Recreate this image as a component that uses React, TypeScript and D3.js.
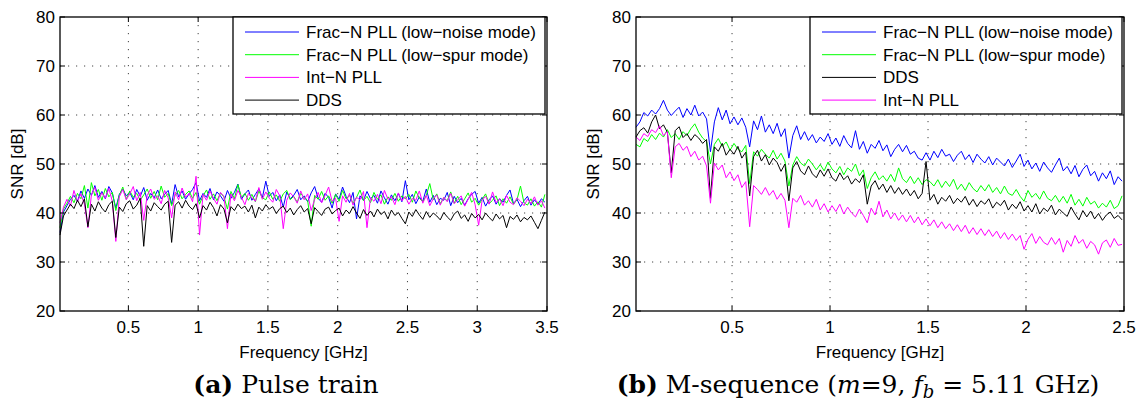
import React from 'react';
import * as d3 from 'd3';

// sampling grid of the two measurements (GHz)
const leftStart = 0.01;
const leftStep = 0.025;
const rightStart = 0.01;
const rightStep = 0.02;

const yTicks = [20, 30, 40, 50, 60, 70, 80];
const leftXTicks = [0.5, 1, 1.5, 2, 2.5, 3, 3.5];
const rightXTicks = [0.5, 1, 1.5, 2, 2.5];

// (a) pulse train
const pulseLowNoise = [
  36.0, 40.2, 41.5, 42.8, 43.6, 42.4, 44.5, 43.0, 44.9, 43.6,
  45.6, 43.2, 44.4, 42.9, 45.4, 44.1, 41.0, 43.8, 44.9, 43.5,
  44.2, 42.7, 44.8, 43.4, 45.2, 42.6, 44.0, 43.1, 44.7, 42.9,
  43.8, 44.6, 41.8, 45.8, 43.3, 44.5, 42.8, 43.9, 44.8, 46.2,
  42.5, 44.0, 43.2, 45.0, 42.7, 44.3, 43.5, 42.4, 44.6, 43.0,
  44.2, 45.9, 42.8, 43.9, 44.7, 42.6, 43.8, 44.9, 43.1, 46.5,
  43.4, 44.2, 42.5, 43.7, 41.2, 44.3, 42.9, 43.6, 44.8, 42.7,
  43.5, 42.3, 44.1, 45.4, 43.0, 42.2, 44.0, 43.2, 41.0, 43.9,
  42.8, 45.3, 43.4, 42.1, 44.2, 38.8, 43.5, 42.6, 44.4, 42.9,
  43.6, 42.0, 44.5, 43.1, 41.8, 43.7, 42.5, 44.0, 42.3, 46.6,
  42.7, 43.8, 41.9, 43.3, 42.4, 44.9, 42.2, 43.6, 41.7, 43.0,
  42.6, 44.2, 41.5, 43.4, 42.1, 43.0, 41.6, 42.9, 43.8, 44.4,
  42.0, 43.2, 41.4, 42.7, 43.5, 41.8, 42.9, 42.2, 43.6, 44.7,
  41.9, 42.8, 41.3, 42.5, 43.4, 41.6, 42.7, 41.8, 42.9, 42.2,
];
const pulseLowSpur = [
  37.0, 40.8, 42.0, 43.4, 42.1, 44.0, 42.9, 45.6, 41.0, 46.2,
  43.5, 44.8, 42.6, 45.0, 43.3, 44.2, 40.5, 43.6, 45.3, 42.8,
  44.5, 43.2, 44.0, 42.6, 43.7, 44.9, 43.0, 44.4, 42.7, 45.5,
  43.2, 44.0, 41.5, 43.6, 44.6, 42.9, 43.8, 44.5, 43.0, 44.2,
  41.8, 43.5, 44.7, 42.8, 43.9, 42.5, 44.1, 43.3, 40.8, 44.4,
  42.9, 45.8, 43.2, 44.0, 42.6, 43.8, 42.3, 44.5, 43.1, 42.7,
  44.3, 42.8, 43.7, 42.4, 43.9, 44.6, 42.7, 43.4, 42.2, 44.0,
  43.1, 42.5, 37.3, 43.6, 42.8, 44.4, 42.6, 43.5, 42.0, 43.8,
  42.4, 44.6, 42.9, 43.6, 41.9, 43.2, 44.7, 42.5, 43.4, 42.1,
  44.2, 42.8, 43.7, 41.8, 43.3, 42.6, 44.0, 42.4, 43.5, 42.9,
  43.8, 42.2, 44.5, 43.0, 42.3, 43.6, 46.0, 42.7, 43.9, 41.9,
  43.1, 42.5, 44.3, 42.0, 43.4, 41.7, 42.9, 44.1, 42.2, 43.0,
  41.6, 42.8, 43.9, 41.9, 42.6, 43.5, 41.5, 42.9, 42.0, 43.3,
  41.8, 42.7, 45.5, 42.1, 41.6, 42.9, 41.4, 42.3, 41.2, 43.8,
];
const pulseIntN = [
  38.0, 41.2, 42.8, 41.5, 44.6, 42.3, 43.9, 41.8, 37.0, 43.7,
  45.2, 42.6, 44.1, 43.0, 45.0, 42.4, 34.2, 43.3, 44.8, 42.7,
  43.9, 45.4, 42.5, 44.2, 38.5, 43.6, 44.9, 42.8, 43.5, 41.9,
  44.6, 43.1, 39.0, 44.3, 42.7, 45.1, 43.2, 44.0, 42.3, 47.5,
  35.5, 43.8, 42.6, 44.5, 43.0, 41.8, 44.2, 43.4, 36.8, 43.9,
  42.5, 44.6, 43.2, 41.7, 44.0, 43.1, 42.4, 45.2, 42.8, 44.3,
  43.0, 42.2, 44.8, 43.5, 36.8, 42.6, 44.1, 43.3, 42.0, 44.5,
  42.7, 43.9, 40.5, 42.8, 44.2, 42.1, 43.6, 45.3, 42.4, 43.0,
  38.3, 43.5, 42.2, 44.0, 41.6, 43.2, 42.7, 44.4, 37.0, 43.1,
  42.4, 43.8, 41.9, 44.6, 42.8, 43.3, 41.7, 44.1, 42.5, 43.4,
  41.8, 43.0, 42.6, 44.5, 42.0, 43.6, 41.5, 42.9, 43.7, 41.6,
  43.2, 42.3, 44.0, 41.9, 42.7, 43.5, 41.4, 42.8, 44.2, 41.7,
  37.5, 42.6, 43.4, 41.8, 44.3, 42.1, 42.9, 41.5, 43.6, 42.2,
  41.7, 43.1, 42.4, 41.5, 42.8, 41.9, 43.3, 41.6, 42.5, 41.0,
];
const pulseDDS = [
  35.5, 39.4, 40.6, 41.8, 40.9, 42.6, 41.3, 42.9, 37.2, 41.8,
  40.4, 42.3, 41.0, 40.2, 41.7, 42.4, 35.0, 41.2, 40.3, 41.9,
  42.5, 40.8, 41.6, 43.0, 33.2, 41.5, 40.4, 42.1, 41.3, 40.6,
  41.8, 42.4, 34.0, 41.6, 42.3, 41.0, 42.6, 41.4, 40.7, 41.9,
  39.0, 41.5, 40.6, 42.2, 41.1, 39.4, 41.7, 40.8, 38.0, 41.3,
  40.5, 41.8, 40.9, 41.4, 40.2, 41.6, 39.0, 41.2, 40.4, 41.7,
  40.8, 41.3, 39.9, 40.9, 41.4, 40.1, 41.0, 39.6, 40.7, 41.5,
  40.2, 40.9, 37.8, 41.1, 40.3, 39.5, 40.8, 41.2, 39.8, 40.5,
  41.0, 39.4, 40.6, 39.9, 41.3, 40.0, 38.9, 40.7, 39.5, 40.4,
  39.2, 40.8, 39.7, 40.3, 38.8, 40.6, 39.5, 40.1, 38.9, 37.8,
  40.2, 39.3, 40.7, 39.6, 38.7, 40.3, 39.1, 40.0, 39.4, 38.6,
  40.1, 39.2, 38.5, 39.8, 40.4, 38.9, 39.6, 38.3, 39.9, 39.0,
  39.7, 38.6, 40.0, 39.1, 38.4, 39.8, 38.8, 39.5, 37.0, 39.3,
  38.7, 39.6, 38.2, 39.1, 38.6, 39.4, 38.1, 36.8, 38.5, 40.2,
];

// (b) M-sequence
const mseqLowNoise = [
  57.5, 58.6, 60.5, 59.8, 61.0, 60.2, 61.3, 63.0, 61.0, 59.9,
  60.8, 61.6, 59.5, 61.3, 60.0, 62.0, 59.8, 60.6, 59.2, 52.5,
  58.6, 61.5, 59.0, 61.0, 58.2, 59.6, 58.0, 59.4, 57.5, 53.5,
  58.8, 57.0, 59.8, 56.5, 58.0, 56.2, 58.3, 55.6, 57.2, 51.2,
  55.8, 57.8, 55.0, 56.6, 54.8, 56.0, 54.3, 55.5, 54.6, 56.2,
  54.0, 55.3, 53.6, 55.8, 54.2, 53.3, 56.8, 53.0, 54.6, 52.2,
  54.0, 53.2, 54.8, 52.7, 53.9, 51.5, 53.0, 54.0, 52.5, 53.8,
  52.0, 52.6, 51.2, 50.8, 52.3, 50.8, 52.6, 51.3, 53.0, 51.6,
  52.0, 50.5, 51.8, 52.6, 50.9, 51.9, 50.3, 52.0, 51.0, 50.2,
  51.5, 49.8, 51.2, 50.4, 49.6, 51.0, 49.3, 50.6, 52.0, 49.5,
  50.8, 49.0, 50.2, 48.5, 50.4, 49.2, 48.3, 49.8, 51.2, 48.6,
  49.5, 48.0, 49.7, 47.4, 48.9, 49.8, 47.6, 48.5, 46.5, 48.2,
  47.0, 48.6, 45.8, 47.4, 46.5,
];
const mseqLowSpur = [
  54.0, 53.5, 55.2, 54.6, 56.0, 55.0, 56.3, 55.5, 57.0, 55.4,
  56.2, 55.0, 56.6, 55.8, 57.2, 58.2, 56.5, 55.3, 54.6, 50.0,
  54.0, 55.2, 53.6, 54.5, 52.8, 54.2, 53.0, 52.5, 53.8, 46.0,
  52.5, 51.6, 53.0, 52.0, 51.2, 52.8, 51.0, 52.2, 50.6, 45.5,
  49.8, 51.5, 50.2, 49.6, 51.0, 50.0, 48.8, 49.9, 48.6, 50.4,
  49.0, 48.2, 49.5, 47.8, 49.2, 48.5, 50.0, 47.6, 48.8, 45.0,
  47.2, 48.4, 46.8, 47.6, 46.5, 47.9, 46.4, 49.2, 47.0, 46.2,
  47.5, 46.0, 47.2, 45.8, 46.8, 46.4, 45.5, 46.8, 45.2, 46.5,
  45.4, 46.9, 44.8, 45.9, 44.6, 46.2, 45.0, 44.3, 45.6, 44.5,
  45.8, 44.2, 45.2, 43.9, 45.5, 44.0, 43.6, 44.8, 43.4, 42.4,
  44.6, 43.2, 44.0, 42.8, 44.5, 43.0, 42.5, 43.6, 42.2, 43.4,
  42.0, 43.8, 41.6, 42.8, 41.4, 43.2, 41.8, 42.4, 41.0, 42.0,
  41.2, 42.6, 40.9, 41.5, 43.5,
];
const mseqDDS = [
  55.5, 56.8, 57.4, 56.3, 58.6, 60.0, 57.2, 58.0, 56.5, 48.2,
  56.8, 57.6, 55.4, 56.2, 54.8, 56.0, 55.3, 54.2, 55.0, 43.0,
  53.5, 52.6, 54.2, 51.8, 53.0, 52.0, 53.6, 51.2, 52.4, 43.5,
  51.5, 52.8, 50.6, 51.9, 49.8, 51.2, 50.3, 48.5, 50.0, 42.5,
  49.2, 50.5, 48.6, 47.8, 49.6, 48.0, 47.2, 48.8, 47.5, 49.0,
  47.2, 46.5, 48.2, 46.8, 47.6, 45.9, 47.0, 46.2, 47.8, 41.8,
  45.5, 46.6, 44.8, 45.9, 44.2, 45.6, 44.0, 45.2, 43.8, 44.9,
  43.5, 44.6, 42.9, 44.0, 50.5, 42.6, 43.8, 41.8, 43.2, 42.4,
  43.6, 41.9, 43.0, 42.2, 43.4, 41.6, 42.8, 41.3, 42.5, 41.8,
  42.9, 41.0, 42.2, 41.5, 42.6, 40.6, 41.8, 40.9, 42.3, 40.4,
  41.5, 40.2, 41.9, 39.8, 41.0, 40.3, 41.6, 39.6, 40.8, 40.0,
  39.3, 41.2, 39.8, 38.6, 40.5, 39.2, 40.4, 38.8, 39.9, 38.5,
  39.6, 40.2, 38.9, 39.5, 38.6,
];
const mseqIntN = [
  55.5, 54.8, 56.2, 55.6, 57.0, 56.4, 57.8, 55.8, 56.6, 47.2,
  53.5, 54.2, 52.8, 53.6, 51.5, 52.6, 50.8, 51.6, 49.6, 42.0,
  50.2, 48.8, 49.8, 47.2, 48.4, 46.6, 47.8, 45.2, 46.4, 37.2,
  45.6, 44.8, 43.8, 45.2, 43.6, 44.6, 42.8, 44.0, 42.6, 37.0,
  43.0, 42.2, 43.6, 41.6, 42.5, 41.2, 42.8, 40.6, 41.9, 40.2,
  41.5, 40.3, 41.8, 39.8, 41.2, 40.0, 39.2, 40.8, 39.5, 38.0,
  41.0, 39.6, 42.4, 39.2, 40.6, 38.8, 40.0, 38.5, 39.6, 38.2,
  39.5, 38.0, 39.2, 37.6, 38.8, 37.4, 38.6, 37.0, 38.2, 36.8,
  37.8, 36.4, 37.6, 36.2, 37.5, 35.8, 37.0, 35.6, 36.8, 35.4,
  36.6, 35.2, 36.3, 34.8, 36.0, 34.6, 35.7, 34.4, 35.4, 32.6,
  34.6, 35.8, 33.8, 35.2, 34.0, 33.5, 35.0, 33.6, 34.8, 32.0,
  34.4, 33.2, 35.4, 33.8, 34.6, 32.8, 34.2, 33.5, 31.6, 33.9,
  34.5, 33.0, 34.8, 33.4, 33.6,
];

const BLUE = '#0000ff';
const GREEN = '#00ff00';
const MAGENTA = '#ff00ff';
const BLACK = '#000000';

const sans = '"Liberation Sans", Arial, Helvetica, sans-serif';
const serif = '"DejaVu Serif", "Liberation Serif", serif';

type Series = { name: string; color: string; values: number[] };

function Panel({ left, right, xMax, xTicks, start, step, series, legendLeft }: {
  left: number; right: number; xMax: number; xTicks: number[];
  start: number; step: number; series: Series[]; legendLeft: number;
}) {
  const top = 17;
  const bottom = 311;
  const x = d3.scaleLinear().domain([start, xMax]).range([left, right]);
  const y = d3.scaleLinear().domain([20, 80]).range([bottom, top]);
  const line = d3.line<number>()
    .x((_, i) => x(start + i * step))
    .y((d) => y(d));
  const tick = 5;
  const legendRight = right - 2;
  const rowY = (i: number) => top + 15 + i * 22.7;

  return (
    <g>
      {/* grid */}
      {xTicks.filter((t) => t < xMax).map((t) => (
        <line key={'gx' + t} x1={x(t)} x2={x(t)} y1={top} y2={bottom}
          stroke="#444" strokeWidth={1} strokeDasharray="1.2,6.8" />
      ))}
      {yTicks.filter((t) => t > 20 && t < 80).map((t) => (
        <line key={'gy' + t} x1={left} x2={right} y1={y(t)} y2={y(t)}
          stroke="#444" strokeWidth={1} strokeDasharray="1.2,6.8" />
      ))}

      {/* data */}
      <g fill="none" strokeWidth={1} strokeLinejoin="round">
        {series.map((s) => (
          <path key={s.name} d={line(s.values) || ''} stroke={s.color} />
        ))}
      </g>

      {/* ticks */}
      {xTicks.map((t) => (
        <g key={'tx' + t}>
          <line x1={x(t)} x2={x(t)} y1={bottom} y2={bottom - tick} stroke="#000" />
          <line x1={x(t)} x2={x(t)} y1={top} y2={top + tick} stroke="#000" />
          <text x={x(t)} y={333} textAnchor="middle" fontFamily={sans} fontSize={17}>{t}</text>
        </g>
      ))}
      {yTicks.map((t) => (
        <g key={'ty' + t}>
          <line x1={left} x2={left + tick} y1={y(t)} y2={y(t)} stroke="#000" />
          <line x1={right} x2={right - tick} y1={y(t)} y2={y(t)} stroke="#000" />
          <text x={left - 5} y={y(t) + 6} textAnchor="end" fontFamily={sans} fontSize={17}>{t}</text>
        </g>
      ))}

      <rect x={left} y={top} width={right - left} height={bottom - top}
        fill="none" stroke="#000" strokeWidth={1.3} />

      {/* legend */}
      <rect x={legendLeft} y={top} width={legendRight - legendLeft} height={97}
        fill="#fff" stroke="#000" strokeWidth={1.3} />
      {series.map((s, i) => (
        <g key={'lg' + s.name}>
          <line x1={legendLeft + 12} x2={legendLeft + 66} y1={rowY(i)} y2={rowY(i)} stroke={s.color} />
          <text x={legendLeft + 73} y={rowY(i) + 6} fontFamily={sans} fontSize={17}>{s.name}</text>
        </g>
      ))}

      <text x={(left + right) / 2} y={358} textAnchor="middle" fontFamily={sans} fontSize={17}>
        Frequency [GHz]
      </text>
      <text transform={`translate(${left - 37},${(top + bottom) / 2}) rotate(-90)`}
        textAnchor="middle" fontFamily={sans} fontSize={17}>SNR [dB]</text>
    </g>
  );
}

export default function App() {
  const leftSeries: Series[] = [
    { name: 'Frac\u2212N PLL (low\u2212noise mode)', color: BLUE, values: pulseLowNoise },
    { name: 'Frac\u2212N PLL (low\u2212spur mode)', color: GREEN, values: pulseLowSpur },
    { name: 'Int\u2212N PLL', color: MAGENTA, values: pulseIntN },
    { name: 'DDS', color: BLACK, values: pulseDDS },
  ];
  const rightSeries: Series[] = [
    { name: 'Frac\u2212N PLL (low\u2212noise mode)', color: BLUE, values: mseqLowNoise },
    { name: 'Frac\u2212N PLL (low\u2212spur mode)', color: GREEN, values: mseqLowSpur },
    { name: 'DDS', color: BLACK, values: mseqDDS },
    { name: 'Int\u2212N PLL', color: MAGENTA, values: mseqIntN },
  ];

  return (
    <svg width={1137} height={403} style={{ position: 'absolute', left: 0, top: 0, background: '#fff' }}>
      <rect width={1137} height={403} fill="#fff" />
      <Panel left={60} right={547} xMax={3.5} xTicks={leftXTicks}
        start={leftStart} step={leftStep} series={leftSeries} legendLeft={233} />
      <Panel left={636} right={1124} xMax={2.5} xTicks={rightXTicks}
        start={rightStart} step={rightStep} series={rightSeries} legendLeft={810} />

      <text x={286} y={393} textAnchor="middle" fontFamily={serif} fontSize={25}>
        <tspan fontWeight="bold">(a)</tspan> Pulse train
      </text>
      <text x={858} y={393} textAnchor="middle" fontFamily={serif} fontSize={25}>
        <tspan fontWeight="bold">(b)</tspan> M-sequence (<tspan fontStyle="italic">m</tspan>=9,{' '}
        <tspan fontStyle="italic">f</tspan><tspan dy={5} fontSize={18} fontStyle="italic">b</tspan>
        <tspan dy={-5}> = 5.11 GHz)</tspan>
      </text>
    </svg>
  );
}
